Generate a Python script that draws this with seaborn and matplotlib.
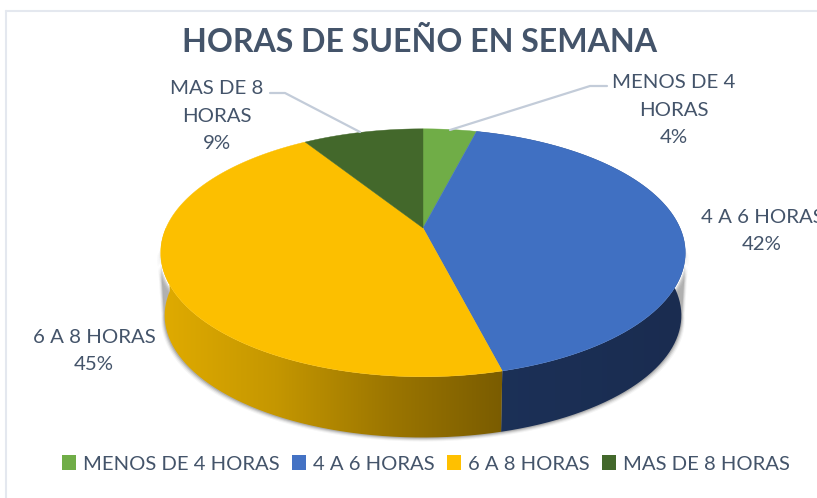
import numpy as np
import matplotlib
matplotlib.use('Agg')
import matplotlib.pyplot as plt
from matplotlib.patches import Patch, PathPatch
from matplotlib.path import Path
import seaborn as sns

# Data
categorias = ['MENOS DE 4 HORAS', '4 A 6 HORAS', '6 A 8 HORAS', 'MAS DE 8 HORAS']
valores = [4, 42, 45, 9]
etiquetas = ['MENOS DE 4\nHORAS\n4%', '4 A 6 HORAS\n42%', '6 A 8 HORAS\n45%', 'MAS DE 8\nHORAS\n9%']
titulo = 'HORAS DE SUEÑO EN SEMANA'

sns.set_theme(style='white')
plt.rcParams['font.family'] = ['Lato', 'DejaVu Sans']
colores = sns.color_palette(['#70ad47', '#4472c4', '#ffc000', '#43682b'])
color_top = ['#70ad47', '#4070c2', '#fcbf00', '#43682b']
texto = '#44546a'

# Work in pixel coordinates of the picture
fig, ax = plt.subplots(figsize=(8.17, 4.98), dpi=100)
ax.set_position([0, 0, 1, 1])
ax.axis('off')

# Perspective look of the pie
CX, CY, R, H, K = 423, 228, 257, 119, 0.2
PROF, ESC = 63, 0.985


def punto(theta, abajo=False):
    # theta in degrees, clockwise from the top
    t = np.radians(theta)
    u, v = np.sin(t), np.cos(t)
    w = 1 + K * v
    if abajo:
        return CX + ESC * R * u / w, CY + PROF - ESC * H * v / w
    return CX + R * u / w, CY - H * v / w


def arco(a, b, n=160):
    return np.linspace(a, b, n)


def pared(a, b):
    xs, ys = punto(arco(a, b))
    xi, yi = punto(arco(a, b), abajo=True)
    return np.r_[xs, xi[::-1]], np.r_[ys, yi[::-1]]


angulos = np.cumsum([0] + valores) * 3.6

# soft shadow under the wall
xsom, ysom = pared(100, 260)
for d, al in zip([4, 3, 2, 1], [0.05, 0.09, 0.14, 0.2]):
    ax.fill(CX + (xsom - CX) * (1 + d / 300), ysom + d, color='#404040', alpha=al, lw=0, zorder=1)

# walls with a horizontal gradient, blue then yellow
grad_az = sns.blend_palette(['#1a2c50', '#1c3158'], as_cmap=True)
grad_am = sns.blend_palette(['#e0ab00', '#c59700', '#9c7600', '#7a5c00'], as_cmap=True)
for (a, b, cmap) in [(angulos[1], angulos[2], grad_az), (angulos[2], 270, grad_am)]:
    xp, yp = pared(a, b)
    poly = PathPatch(Path(np.c_[xp, yp]), transform=ax.transData, fc='none', ec='none')
    ax.add_patch(poly)
    g = np.linspace(0, 1, 256).reshape(1, -1)
    im = ax.imshow(g[:, ::-1] if cmap is grad_az else g, cmap=cmap, aspect='auto', zorder=2,
                   extent=[xp.min(), xp.max(), yp.max(), yp.min()])
    im.set_clip_path(poly)
ax.set_xlim(0, 817)
ax.set_ylim(498, 0)

# top face
for i, c in enumerate(color_top):
    xs, ys = punto(arco(angulos[i], angulos[i + 1]))
    ax.fill(np.r_[CX, xs], np.r_[CY, ys], color=c, lw=0.3, zorder=3)

# leader lines
linea = '#c3ccd9'
ax.plot([270, 285, 360], [93, 93, 132], color=linea, lw=1.6, zorder=4)
ax.plot([607, 590, 450], [86, 86, 130], color=linea, lw=1.6, zorder=4)

# labels
pos = [(674, 110), (762, 231), (94, 351), (217, 116)]
for (x, y), et in zip(pos, etiquetas):
    ax.text(x, y, et, ha='center', va='center', color=texto, fontsize=14.7, linespacing=1.76, zorder=5,
            clip_on=True)

ax.text(420, 42, titulo, ha='center', va='center', color=texto, fontsize=23.1, fontweight='bold')

# legend
hs = [Patch(facecolor=c, edgecolor='none', label=n) for c, n in zip(colores, categorias)]
ax.legend(handles=hs, loc='center', bbox_to_anchor=(426 / 817, 1 - 464 / 498), ncol=4, frameon=False,
          fontsize=14.6, labelcolor=texto, handlelength=0.7, handleheight=0.7, handletextpad=0.35,
          columnspacing=0.6, borderpad=0)

# thin frame left over from the screenshot
marco = '#e4e8ef'
ax.plot([6, 6], [11, 498], color=marco, lw=1.5, zorder=0)
ax.plot([6, 817], [11, 11], color=marco, lw=1.5, zorder=0)

plt.savefig('out.png', dpi=100)
